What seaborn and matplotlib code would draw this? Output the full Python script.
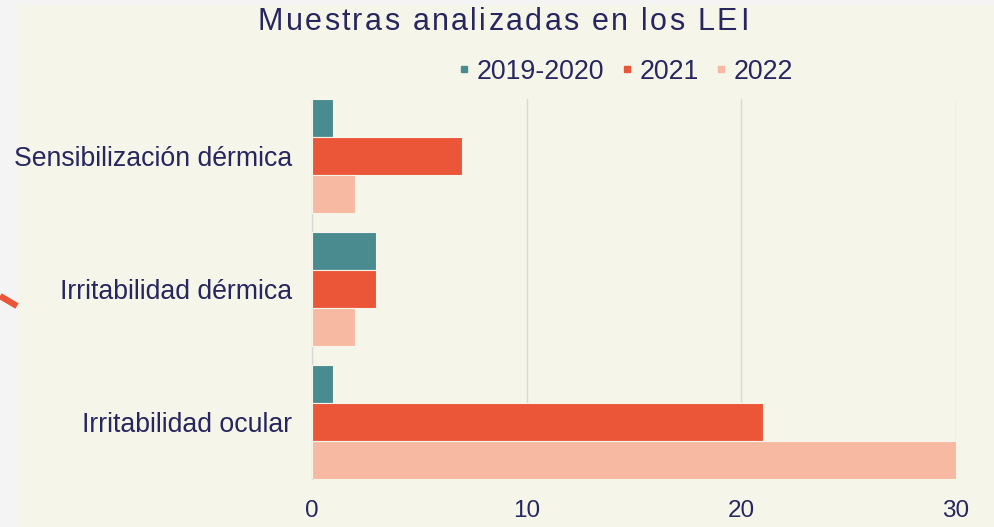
import matplotlib
matplotlib.use("Agg")
import matplotlib.pyplot as plt
import pandas as pd
import seaborn as sns
from matplotlib.lines import Line2D
from matplotlib.patches import Rectangle

categories = ["Sensibilización dérmica", "Irritabilidad dérmica", "Irritabilidad ocular"]
periods = ["2019-2020", "2021", "2022"]
vals_2019_2020 = [1, 3, 1]
vals_2021 = [7, 3, 21]
vals_2022 = [2, 2, 30]
xticks = [0, 10, 20, 30]
title = "Muestras analizadas en los LEI"

colors = ["#4a8b8f", "#eb5538", "#f7b9a2"]
text_col = "#27265f"
panel_bg = "#f5f6e9"

rows = []
for p, vals in zip(periods, [vals_2019_2020, vals_2021, vals_2022]):
    for c, v in zip(categories, vals):
        rows.append({"Categoria": c, "Periodo": p, "Muestras": v})
df = pd.DataFrame(rows)

sns.set_style("white")
plt.rcParams["font.family"] = ["Liberation Sans", "DejaVu Sans"]

W, H = 995, 527
fig = plt.figure(figsize=(W / 100, H / 100), dpi=100)
fig.patch.set_facecolor("#f4f4f4")
# cream panel
fig.add_artist(Rectangle((17 / W, 0), 1 - 17 / W, 1 - 5 / H,
                         transform=fig.transFigure, facecolor=panel_bg,
                         edgecolor="none", zorder=0))
# decorative red arc piece on the left edge
fig.add_artist(Line2D([0, 17 / W], [1 - 296 / H, 1 - 306 / H],
                      transform=fig.transFigure, color="#eb5538", lw=4.5,
                      solid_capstyle="butt", zorder=1))

ax = fig.add_axes([312 / W, 1 - 478.7 / H, 644 / W, 379.4 / H])
ax.set_facecolor("none")

sns.barplot(data=df, y="Categoria", x="Muestras", hue="Periodo",
            order=categories, hue_order=periods, palette=colors, saturation=1,
            orient="h", width=0.853, edgecolor=panel_bg, linewidth=0.8,
            ax=ax, legend=False, zorder=3)

ax.set_xlim(0, 30)
ax.set_ylim(2.4265, -0.4265)
ax.set_xticks(xticks)
ax.set_xticklabels([str(t) for t in xticks])
ax.grid(axis="x", color="#d9d9d9", lw=1, zorder=0)
ax.set_axisbelow(True)
for s in ["top", "right", "bottom"]:
    ax.spines[s].set_visible(False)
ax.spines["left"].set_color("#d9d9d9")
ax.spines["left"].set_linewidth(1)
ax.tick_params(axis="y", length=0, pad=14, labelsize=19.2, labelcolor=text_col)
ax.tick_params(axis="x", length=0, pad=15, labelsize=17.5, labelcolor=text_col)
for lab in ax.get_xticklabels():
    lab.set_family(["Liberation Sans Narrow", "Liberation Sans", "DejaVu Sans"])
ax.set_xlabel("")
ax.set_ylabel("")

# title with a little letter spacing
fig.canvas.draw()
renderer = fig.canvas.get_renderer()
tsize = 22
spacing = 2.3
widths = []
for i in range(len(title) + 1):
    t = fig.text(0, 0, title[:i] if i else "", fontsize=tsize)
    widths.append(t.get_window_extent(renderer).width if i else 0)
    t.remove()
total = widths[-1] + spacing * (len(title) - 1)
x0 = 503 - total / 2
for i, ch in enumerate(title):
    fig.text((x0 + widths[i] + i * spacing) / W, 1 - 22 / H, ch, ha="left",
             va="center", fontsize=tsize, color=text_col)

handles = [Line2D([], [], marker="s", ls="none", markersize=5, color=c) for c in colors]
fig.legend(handles, periods, loc="center", bbox_to_anchor=(624 / W, 1 - 71.5 / H), ncol=3,
           frameon=False, fontsize=19.3, labelcolor=text_col, handletextpad=0.12,
           columnspacing=0.5, handlelength=0.7)

fig.savefig("out.png", dpi=100, facecolor=fig.get_facecolor())
